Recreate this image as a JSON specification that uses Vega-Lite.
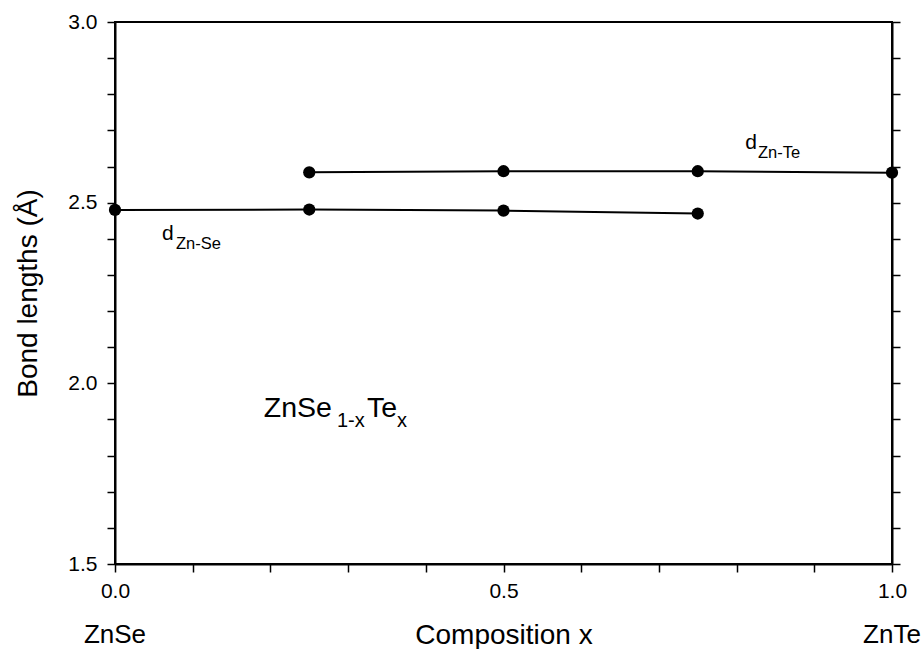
{
  "$schema": "https://vega.github.io/schema/vega-lite/v6.json",
  "width": 777,
  "height": 542,
  "autosize": {"type": "none"},
  "padding": {"left": 115, "top": 22, "right": 29, "bottom": 85},
  "background": "white",
  "config": {
    "view": {"stroke": "black", "strokeWidth": 2},
    "font": "Liberation Sans"
  },
  "layer": [
    {
      "data": {
        "values": [
          {"bond": "Zn-Se", "x": 0.0, "d": 2.480},
          {"bond": "Zn-Se", "x": 0.25, "d": 2.481},
          {"bond": "Zn-Se", "x": 0.5, "d": 2.478},
          {"bond": "Zn-Se", "x": 0.75, "d": 2.470},
          {"bond": "Zn-Te", "x": 0.25, "d": 2.584},
          {"bond": "Zn-Te", "x": 0.5, "d": 2.587},
          {"bond": "Zn-Te", "x": 0.75, "d": 2.587},
          {"bond": "Zn-Te", "x": 1.0, "d": 2.583}
        ]
      },
      "mark": {"type": "line", "color": "black", "strokeWidth": 2, "point": {"filled": true, "color": "black", "size": 150, "opacity": 1}},
      "encoding": {
        "x": {
          "field": "x", "type": "quantitative",
          "scale": {"domain": [0, 1], "nice": false, "zero": false},
          "axis": {
            "title": "Composition x",
            "values": [0, 0.1, 0.2, 0.3, 0.4, 0.5, 0.6, 0.7, 0.8, 0.9, 1.0],
            "labelExpr": "round(datum.value*10) % 5 == 0 ? format(datum.value, '.1f') : ''",
            "grid": false,
            "domainColor": "black", "domainWidth": 2,
            "tickColor": "black", "tickWidth": 1.5, "tickSize": 8,
            "labelColor": "black", "labelFont": "Liberation Sans", "labelFontSize": 21,
            "labelPadding": 8,
            "labelFlush": false,
            "labelOverlap": false,
            "titleColor": "black", "titleFont": "Liberation Sans", "titleFontSize": 28, "titleFontWeight": "normal",
            "titleY": 79,
            "titleBaseline": "alphabetic"
          }
        },
        "y": {
          "field": "d", "type": "quantitative",
          "scale": {"domain": [1.5, 3.0], "nice": false, "zero": false},
          "axis": {
            "title": "Bond lengths (Å)",
            "values": [1.5, 1.6, 1.7, 1.8, 1.9, 2.0, 2.1, 2.2, 2.3, 2.4, 2.5, 2.6, 2.7, 2.8, 2.9, 3.0],
            "labelExpr": "round(datum.value*10) % 5 == 0 ? format(datum.value, '.1f') : ''",
            "grid": false,
            "domainColor": "black", "domainWidth": 2,
            "tickColor": "black", "tickWidth": 1.5, "tickSize": 8,
            "labelColor": "black", "labelFont": "Liberation Sans", "labelFontSize": 21,
            "labelPadding": 10,
            "labelFlush": false,
            "labelOverlap": false,
            "titleColor": "black", "titleFont": "Liberation Sans", "titleFontSize": 28, "titleFontWeight": "normal",
            "titleX": -79,
            "titleBaseline": "alphabetic"
          }
        },
        "detail": {"field": "bond"}
      }
    },
    {
      "data": {"values": [
        {"t": "d", "x": 0.0605, "d": 2.397},
        {"t": "d", "x": 0.811, "d": 2.649}
      ]},
      "mark": {"type": "text", "align": "left", "baseline": "alphabetic", "fontSize": 21, "color": "black"},
      "encoding": {
        "x": {"field": "x", "type": "quantitative", "axis": null},
        "y": {"field": "d", "type": "quantitative", "axis": null},
        "text": {"field": "t"}
      }
    },
    {
      "data": {"values": [
        {"t": "Zn-Se", "x": 0.0785, "d": 2.372},
        {"t": "Zn-Te", "x": 0.8275, "d": 2.624}
      ]},
      "mark": {"type": "text", "align": "left", "baseline": "alphabetic", "fontSize": 16.5, "color": "black"},
      "encoding": {
        "x": {"field": "x", "type": "quantitative", "axis": null},
        "y": {"field": "d", "type": "quantitative", "axis": null},
        "text": {"field": "t"}
      }
    },
    {
      "data": {"values": [
        {"t": "ZnSe", "x": 0.1915, "d": 1.907},
        {"t": "Te", "x": 0.3243, "d": 1.907}
      ]},
      "mark": {"type": "text", "align": "left", "baseline": "alphabetic", "fontSize": 28.5, "color": "black"},
      "encoding": {
        "x": {"field": "x", "type": "quantitative", "axis": null},
        "y": {"field": "d", "type": "quantitative", "axis": null},
        "text": {"field": "t"}
      }
    },
    {
      "data": {"values": [
        {"t": "1-x", "x": 0.2857, "d": 1.879},
        {"t": "x", "x": 0.363, "d": 1.879}
      ]},
      "mark": {"type": "text", "align": "left", "baseline": "alphabetic", "fontSize": 20, "color": "black"},
      "encoding": {
        "x": {"field": "x", "type": "quantitative", "axis": null},
        "y": {"field": "d", "type": "quantitative", "axis": null},
        "text": {"field": "t"}
      }
    },
    {
      "data": {"values": [
        {"t": "ZnSe", "x": 0.0, "d": 1.281},
        {"t": "ZnTe", "x": 1.0, "d": 1.281}
      ]},
      "mark": {"type": "text", "align": "center", "baseline": "alphabetic", "fontSize": 26, "color": "black"},
      "encoding": {
        "x": {"field": "x", "type": "quantitative", "axis": null},
        "y": {"field": "d", "type": "quantitative", "axis": null},
        "text": {"field": "t"}
      }
    },
    {
      "data": {"values": [{"x": 0.5, "d": 2.0}]},
      "mark": {"type": "point", "opacity": 0},
      "encoding": {
        "x": {"field": "x", "type": "quantitative", "axis": null},
        "y": {
          "field": "d", "type": "quantitative",
          "axis": {
            "orient": "right",
            "title": null,
            "labels": false,
            "grid": false,
            "domainColor": "black", "domainWidth": 2,
            "tickColor": "black", "tickWidth": 1.5, "tickSize": 8,
            "values": [1.5, 1.6, 1.7, 1.8, 1.9, 2.0, 2.1, 2.2, 2.3, 2.4, 2.5, 2.6, 2.7, 2.8, 2.9, 3.0]
          }
        }
      }
    }
  ],
  "resolve": {"axis": {"x": "independent", "y": "independent"}}
}
